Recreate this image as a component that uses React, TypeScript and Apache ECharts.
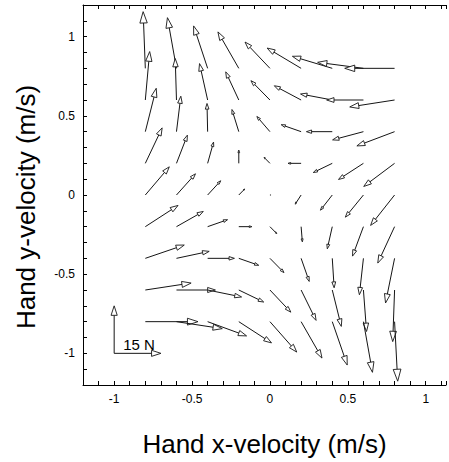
import React, { useEffect, useRef } from "react";
import * as echarts from "echarts";

// Grid of hand velocities (m/s) where the force field was sampled
const X_VEL = [-0.8, -0.6, -0.4, -0.2, 0, 0.2, 0.4, 0.6, 0.8];
const Y_VEL = [0.8, 0.6, 0.4, 0.2, 0, -0.2, -0.4, -0.6, -0.8];

// Force x-component (N), rows follow Y_VEL, columns follow X_VEL
const FX = [
  [-0.7, -2.9, -4.5, -6.7, -8.0, -10.9, -12.8, -14.7, -16.0],
  [1.4, -0.4, -2.6, -4.2, -6.1, -8.6, -10.2, -11.8, -14.4],
  [3.5, 1.4, -0.2, -2.2, -4.2, -6.4, -8.3, -9.9, -12.1],
  [5.4, 3.5, 1.9, 0, -1.9, -4.2, -6.1, -8.0, -9.9],
  [7.7, 6.1, 4.2, 1.9, 0.3, -1.9, -3.8, -5.8, -7.7],
  [10.5, 8.6, 6.4, 4.2, 2.2, 0.4, -1.6, -3.5, -5.4],
  [12.5, 10.5, 8.6, 6.4, 4.5, 2.6, 0.6, -1.3, -2.9],
  [14.7, 12.5, 10.9, 8.0, 6.7, 4.8, 2.9, 1.0, -0.6],
  [16.9, 14.7, 12.5, 10.5, 8.6, 6.7, 4.8, 2.9, 1.0],
];

// Force y-component (N)
const FY = [
  [17.9, 16.0, 13.4, 11.5, 8.3, 6.4, 3.8, 1.9, 0],
  [15.3, 13.1, 11.5, 8.9, 6.1, 4.5, 1.9, 0, -2.2],
  [13.7, 11.2, 8.9, 7.0, 4.8, 2.2, 0, -2.6, -4.5],
  [11.2, 8.9, 6.7, 4.2, 1.9, 0, -2.9, -5.1, -7.3],
  [8.9, 6.7, 4.5, 1.9, 0, -2.9, -4.8, -7.0, -9.6],
  [6.7, 4.8, 2.2, 0, -2.2, -4.8, -7.0, -9.3, -11.5],
  [4.2, 2.2, 0, -2.2, -4.5, -7.3, -9.3, -11.5, -14.1],
  [2.2, 0, -2.2, -3.8, -7.0, -9.6, -11.5, -13.1, -16.3],
  [0, -2.2, -4.5, -6.7, -9.6, -11.5, -13.7, -16.0, -18.8],
];

// Scale bar
const SCALE_ORIGIN = [-1, -1];
const SCALE_FORCE = 15; // N
const SCALE_LABEL = "15 N";

// Axis settings
const X_MIN = -1.2;
const X_MAX = 1.13; // the figure is cut off at the right
const Y_MIN = -1.2;
const Y_MAX = 1.2;
const TICK_STEP = 0.1;
const X_TITLE = "Hand x-velocity (m/s)";
const Y_TITLE = "Hand y-velocity (m/s)";

// velocity units per newton of force for drawing arrows
const UNITS_PER_N = 0.02;

const INK = "#151515";
const FONT = "Liberation Sans, Arial, sans-serif";

function arrowShapes(api: any, x: number, y: number, u: number, v: number) {
  const p0 = api.coord([x, y]);
  const p1 = api.coord([x + u * UNITS_PER_N, y + v * UNITS_PER_N]);
  const dx = p1[0] - p0[0];
  const dy = p1[1] - p0[1];
  const L = Math.hypot(dx, dy);
  if (L < 0.8) return [];
  const ux = dx / L;
  const uy = dy / L;
  const hl = 0.2 * L;
  const hw = 0.065 * L;
  const bx = p1[0] - ux * hl;
  const by = p1[1] - uy * hl;
  return [
    {
      type: "line",
      shape: { x1: p0[0], y1: p0[1], x2: bx, y2: by },
      style: { stroke: INK, lineWidth: 1 },
    },
    {
      type: "polygon",
      shape: {
        points: [
          [p1[0], p1[1]],
          [bx - uy * hw, by + ux * hw],
          [bx + uy * hw, by - ux * hw],
        ],
      },
      style: { fill: "#ffffff", stroke: INK, lineWidth: 0.9 },
    },
  ];
}

const fmt = (v: number) => {
  const d = v * 2;
  if (Math.abs(d - Math.round(d)) > 1e-6) return "";
  return String(Math.round(v * 10) / 10);
};

export default function App() {
  const ref = useRef<HTMLDivElement>(null);
  useEffect(() => {
    document.body.style.margin = "0";
    if (!ref.current) return;
    const chart = echarts.init(ref.current, null, { renderer: "svg" });

    const field: number[][] = [];
    Y_VEL.forEach((y, r) => {
      X_VEL.forEach((x, c) => {
        field.push([x, y, FX[r][c], FY[r][c]]);
      });
    });
    const scale = [
      [SCALE_ORIGIN[0], SCALE_ORIGIN[1], SCALE_FORCE, 0],
      [SCALE_ORIGIN[0], SCALE_ORIGIN[1], 0, SCALE_FORCE],
    ];

    const axisCommon = {
      type: "value",
      interval: TICK_STEP,
      splitLine: { show: false },
      axisLine: { show: true, onZero: false, lineStyle: { color: "#000", width: 1 } },
      axisTick: { show: true, inside: true, length: 4, lineStyle: { color: "#000" } },
    };

    chart.setOption({
      animation: false,
      backgroundColor: "#ffffff",
      grid: { left: 83, top: 5, right: 0, height: 381, containLabel: false },
      xAxis: [
        {
          ...axisCommon,
          min: X_MIN,
          max: X_MAX,
          position: "bottom",
          name: X_TITLE,
          nameLocation: "middle",
          nameGap: 46,
          nameTextStyle: { fontSize: 26, fontFamily: FONT, color: "#000" },
          axisLabel: { formatter: fmt, fontSize: 12, margin: 8, color: "#000", fontFamily: FONT },
        },
        {
          ...axisCommon,
          min: X_MIN,
          max: X_MAX,
          position: "top",
          axisLabel: { show: false },
        },
      ],
      yAxis: [
        {
          ...axisCommon,
          min: Y_MIN,
          max: Y_MAX,
          position: "left",
          name: Y_TITLE,
          nameLocation: "middle",
          nameGap: 44,
          nameTextStyle: { fontSize: 26, fontFamily: FONT, color: "#000", padding: [0, 24, 0, 0] },
          axisLabel: { formatter: fmt, fontSize: 12, margin: 8, color: "#000", fontFamily: FONT },
        },
      ],
      series: [
        {
          type: "custom",
          name: "force field",
          clip: false,
          xAxisIndex: 0,
          yAxisIndex: 0,
          encode: { x: 0, y: 1 },
          data: field,
          renderItem: (_params: any, api: any) => ({
            type: "group",
            children: arrowShapes(api, api.value(0), api.value(1), api.value(2), api.value(3)),
          }),
        },
        {
          type: "custom",
          name: "scale",
          clip: false,
          xAxisIndex: 0,
          yAxisIndex: 0,
          encode: { x: 0, y: 1 },
          data: scale,
          renderItem: (params: any, api: any) => {
            const children: any[] = arrowShapes(api, api.value(0), api.value(1), api.value(2), api.value(3));
            if (params.dataIndex === 0) {
              const p = api.coord([api.value(0), api.value(1)]);
              children.push({
                type: "text",
                x: p[0] + 9,
                y: p[1] - 1,
                style: {
                  text: SCALE_LABEL,
                  fontSize: 15,
                  fontFamily: FONT,
                  fill: "#000",
                  textAlign: "left",
                  textVerticalAlign: "bottom",
                },
              });
            }
            return { type: "group", children };
          },
        },
      ],
    });
    return () => chart.dispose();
  }, []);
  return <div ref={ref} style={{ width: 449, height: 462 }} />;
}
